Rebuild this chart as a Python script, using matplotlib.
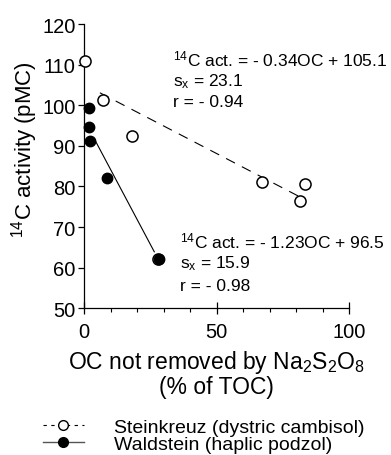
import matplotlib
matplotlib.use("Agg")
import matplotlib.pyplot as plt
from matplotlib.lines import Line2D
import numpy as np

plt.rcParams['font.family'] = ['Liberation Sans', 'DejaVu Sans']
plt.rcParams['mathtext.fontset'] = 'custom'
plt.rcParams['mathtext.rm'] = 'Liberation Sans'
plt.rcParams['mathtext.it'] = 'Liberation Sans:italic'

# Data
stein_x = [0.4, 7.0, 18.0, 67.2, 83.3, 81.4, 27.8]
stein_y = [111.0, 101.3, 92.4, 81.2, 80.5, 76.3, 62.2]
wald_x = [2.0, 2.0, 2.2, 8.6, 28.4]
wald_y = [99.2, 94.6, 91.3, 82.2, 62.2]

# regression lines
stein_slope, stein_icpt = -0.34, 105.1
wald_slope, wald_icpt = -1.23, 96.5
stein_xrange = [6.0, 81.5]
wald_xrange = [4.0, 26.5]

stein_label = "Steinkreuz (dystric cambisol)"
wald_label = "Waldstein (haplic podzol)"

W, H = 391, 456
fig = plt.figure(figsize=(W / 100, H / 100), dpi=100)
x0, x1 = 84, 349.3
y0, y1 = 309.3, 25
ax = fig.add_axes([x0 / W, 1 - y0 / H, (x1 - x0) / W, (y0 - y1) / H])

ax.set_xlim(0, 100)
ax.set_ylim(50, 120)

sx = np.array(stein_xrange)
ax.plot(sx, stein_slope * sx + stein_icpt, color='black', lw=0.8,
        linestyle=(0, (9, 7)))
wx = np.array(wald_xrange)
ax.plot(wx, wald_slope * wx + wald_icpt, color='black', lw=0.8)

ax.plot(stein_x, stein_y, linestyle='none', marker='o', ms=8,
        mfc='white', mec='black', mew=1.1, clip_on=False, zorder=3)
ax.plot(wald_x, wald_y, linestyle='none', marker='o', ms=7.5,
        mfc='black', mec='black', mew=1.0, clip_on=False, zorder=4)

for s in ['top', 'right']:
    ax.spines[s].set_visible(False)
for s in ['left', 'bottom']:
    ax.spines[s].set_linewidth(0.9)

ax.set_yticks(np.arange(50, 121, 10))
ax.set_xticks([0, 50, 100])
ax.set_xticks(np.arange(0, 101, 10), minor=True)
ax.tick_params(axis='y', direction='out', length=4, width=0.9, labelsize=14.5, pad=2)
ax.tick_params(axis='x', which='major', direction='inout', length=8, width=0.9,
               labelsize=14.5, pad=6)
ax.tick_params(axis='x', which='minor', direction='out', length=3, width=0.8)

ax.set_ylabel(r"$^{14}$C activity (pMC)", fontsize=16, va='center')
ax.yaxis.set_label_coords((25 - x0) / (x1 - x0), (y0 - 150) / (y0 - y1))
ax.set_xlabel("OC not removed by Na$_2$S$_2$O$_8$\n(% of TOC)", fontsize=16.5,
              labelpad=5, linespacing=1.0)

fs = 12.5
ax.text(33.5, 109.75, r"$^{14}$C act. = - 0.34OC + 105.1", fontsize=fs, va='baseline')
ax.text(33.5, 104.9, r"s$_\mathrm{x}$ = 23.1", fontsize=fs, va='baseline')
ax.text(33.5, 99.7, "r = - 0.94", fontsize=fs, va='baseline')

ax.text(36.2, 65.0, r"$^{14}$C act. = - 1.23OC + 96.5", fontsize=fs, va='baseline')
ax.text(36.2, 60.1, r"s$_\mathrm{x}$ = 15.9", fontsize=fs, va='baseline')
ax.text(36.2, 54.6, "r = - 0.98", fontsize=fs, va='baseline')

handles = [
    Line2D([], [], color='black', lw=0.8, linestyle=(0, (3, 4)), marker='o',
           ms=7, mfc='white', mec='black', mew=1.0),
    Line2D([], [], color='#555555', lw=1.0, marker='o', ms=7,
           mfc='black', mec='black'),
]
fig.legend(handles, [stein_label, wald_label], loc='upper left',
           bbox_to_anchor=(43 / W, 1 - 419 / H), frameon=False, fontsize=14,
           handlelength=2.1, handletextpad=1.55, labelspacing=0.0,
           borderpad=0, borderaxespad=0)

fig.savefig("out.png", dpi=100)
